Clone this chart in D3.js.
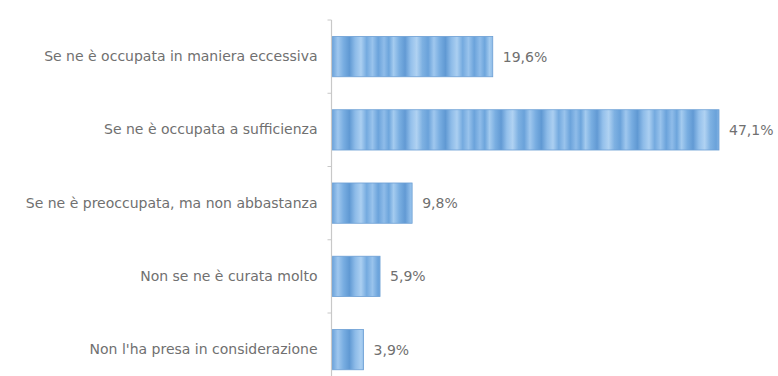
<!DOCTYPE html>
<html>
<head>
<meta charset="utf-8">
<script src="https://cdn.jsdelivr.net/npm/d3@7"></script>
<style>
  html, body { margin: 0; padding: 0; background: #fff; }
  svg { display: block; }
</style>
</head>
<body>
<svg id="chart" width="778" height="376"></svg>
<script>
// Risposte e percentuali
const categories = [
  "Se ne è occupata in maniera eccessiva",
  "Se ne è occupata a sufficienza",
  "Se ne è preoccupata, ma non abbastanza",
  "Non se ne è curata molto",
  "Non l'ha presa in considerazione"
];
const values = [19.6, 47.1, 9.8, 5.9, 3.9];
const valueLabels = ["19,6%", "47,1%", "9,8%", "5,9%", "3,9%"];

const W = 778, H = 376;
const axisX = 331.5;
const svg = d3.select("#chart");

const x = d3.scaleLinear().domain([0, 47.1]).range([axisX, 719]);
const y = d3.scaleBand().domain(categories).range([20, 386.25]).paddingInner(0.45).paddingOuter(0.225);

// Vertical stripe texture for the bars
const defs = svg.append("defs");
const grad = defs.append("linearGradient")
  .attr("id", "stripes")
  .attr("gradientUnits", "userSpaceOnUse")
  .attr("x1", 0).attr("x2", 96).attr("y1", 0).attr("y2", 0)
  .attr("spreadMethod", "repeat");
const stops = [
  [0.00, "#8fbce9"], [0.05, "#6da5dc"], [0.10, "#a4cbef"], [0.16, "#79aee1"],
  [0.22, "#629ad4"], [0.28, "#94c0eb"], [0.34, "#b0d2f2"], [0.40, "#7eb1e2"],
  [0.46, "#6aa2da"], [0.52, "#9fc7ee"], [0.58, "#78ade1"], [0.64, "#6099d3"],
  [0.70, "#8dbbe8"], [0.76, "#abcff1"], [0.82, "#74aadf"], [0.88, "#99c3ec"],
  [0.94, "#6ba3db"], [1.00, "#8fbce9"]
];
grad.selectAll("stop").data(stops).join("stop")
  .attr("offset", d => d[0]).attr("stop-color", d => d[1]);

// Bars
svg.append("g").selectAll("rect").data(values).join("rect")
  .attr("x", axisX)
  .attr("y", (d, i) => y(categories[i]))
  .attr("width", d => x(d) - axisX)
  .attr("height", y.bandwidth())
  .attr("fill", "url(#stripes)")
  .attr("stroke", "#6c9fd4")
  .attr("stroke-width", 0.8);

// Category axis
const axis = d3.axisLeft(y).tickSize(0).tickPadding(14);
const gAxis = svg.append("g").attr("transform", `translate(${axisX},0)`).call(axis);
gAxis.select(".domain").attr("stroke", "#c8c8c8").attr("stroke-width", 1.2)
  .attr("d", `M0,20V${H}`);
gAxis.selectAll(".tick text")
  .attr("fill", "#707070")
  .style("font-family", "'DejaVu Sans', sans-serif")
  .style("font-size", "14px");

// Small tick marks between categories
const bounds = d3.range(categories.length + 1).map(i => 20 + i * y.step());
svg.append("g").selectAll("line").data(bounds).join("line")
  .attr("x1", axisX - 4).attr("x2", axisX)
  .attr("y1", d => d).attr("y2", d => d)
  .attr("stroke", "#c8c8c8");

// Value labels
svg.append("g").selectAll("text").data(values).join("text")
  .attr("x", d => x(d) + 10)
  .attr("y", (d, i) => y(categories[i]) + y.bandwidth() / 2)
  .attr("dy", "0.35em")
  .attr("fill", "#707070")
  .style("font-family", "'DejaVu Sans', sans-serif")
  .style("font-size", "14px")
  .text((d, i) => valueLabels[i]);
</script>
</body>
</html>
